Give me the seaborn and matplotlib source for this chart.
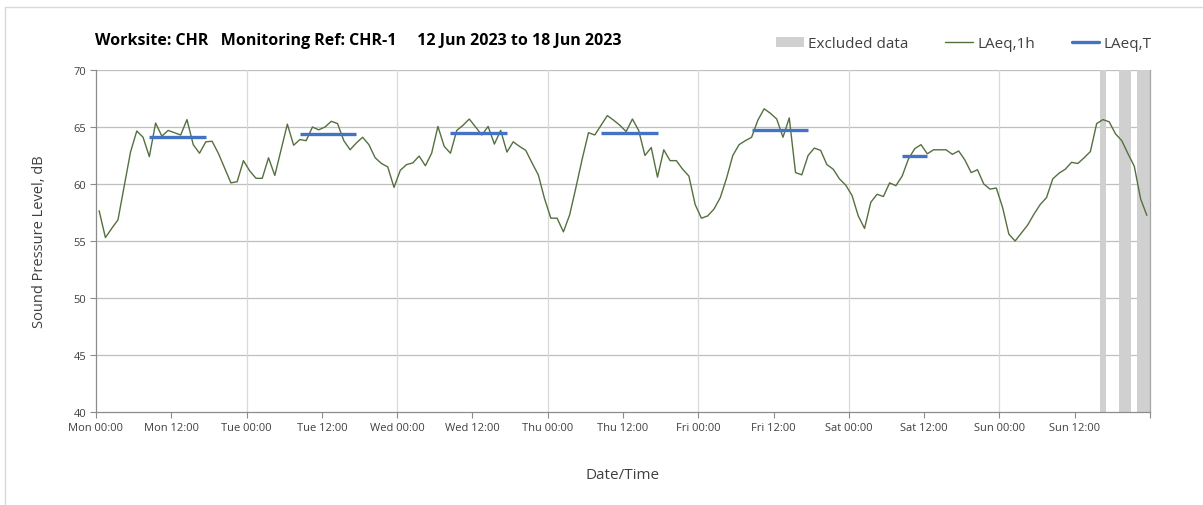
import numpy as np
import pandas as pd
import matplotlib
matplotlib.use('Agg')
import matplotlib.pyplot as plt
from matplotlib.patches import Patch
from matplotlib.lines import Line2D
import seaborn as sns

# hourly LAeq,1h values, Mon 00:00 .. Sun 23:00 (one per hour)
laeq_1h = [
    57.65, 55.3, 56.1, 56.85, 59.85, 62.8, 64.65, 64.1, 62.4, 65.35, 64.2, 64.7,
    64.5, 64.3, 65.65, 63.45, 62.7, 63.7, 63.75, 62.7, 61.4, 60.1, 60.2, 62.05,
    61.15, 60.5, 60.5, 62.3, 60.75, 63.0, 65.25, 63.4, 63.9, 63.8, 65.0, 64.75,
    65.0, 65.5, 65.3, 63.8, 63.0, 63.6, 64.1, 63.45, 62.3, 61.8, 61.5, 59.7,
    61.2, 61.7, 61.85, 62.45, 61.6, 62.7, 65.05, 63.3, 62.7, 64.7, 65.15, 65.7,
    65.0, 64.3, 65.05, 63.5, 64.7, 62.8, 63.7, 63.3, 62.95, 61.85, 60.8, 58.7,
    57.0, 57.0, 55.8, 57.3, 59.7, 62.2, 64.5, 64.3, 65.15, 66.0, 65.6, 65.15,
    64.6, 65.7, 64.7, 62.5, 63.2, 60.6, 63.0, 62.05, 62.05, 61.3, 60.7, 58.2,
    57.0, 57.2, 57.8, 58.8, 60.5, 62.5, 63.45, 63.8, 64.1, 65.6, 66.6, 66.2,
    65.7, 64.1, 65.8, 61.0, 60.8, 62.5, 63.15, 62.95, 61.7, 61.3, 60.45, 59.9,
    59.0, 57.2, 56.1, 58.4, 59.1, 58.9, 60.1, 59.85, 60.7, 62.2, 63.1, 63.45,
    62.65, 63.0, 63.0, 63.0, 62.6, 62.9, 62.1, 61.0, 61.25, 60.0, 59.55, 59.65,
    57.95, 55.6, 55.0, 55.7, 56.4, 57.35, 58.2, 58.8, 60.45, 60.95, 61.3, 61.9,
    61.8, 62.3, 62.85, 65.3, 65.65, 65.45, 64.4, 63.8, 62.65, 61.55, 58.7, 57.25,
]

# LAeq,T daytime periods (first hour, last hour, level)
laeq_t_start = [8, 32, 56, 80, 104, 128]
laeq_t_end = [17, 41, 65, 89, 113, 132]
laeq_t_value = [64.1, 64.4, 64.5, 64.5, 64.7, 62.45]

# excluded periods (hours from Mon 00:00)
excl_start = [160, 163, 166]
excl_end = [161, 165, 168]

tick_labels = ['Mon 00:00', 'Mon 12:00', 'Tue 00:00', 'Tue 12:00', 'Wed 00:00',
               'Wed 12:00', 'Thu 00:00', 'Thu 12:00', 'Fri 00:00', 'Fri 12:00',
               'Sat 00:00', 'Sat 12:00', 'Sun 00:00', 'Sun 12:00']

GREEN = '#55703f'
BLUE = '#4472c4'
GREY_BAR = '#d0d0d0'
TXT = '#404040'

sns.set_style('white')
plt.rcParams['font.family'] = ['Open Sans', 'DejaVu Sans']

df = pd.DataFrame({'hour': np.arange(len(laeq_1h)) + 0.5, 'level': laeq_1h})

fig = plt.figure(figsize=(12.03, 5.06), dpi=100)
ax = fig.add_axes([96 / 1203, 1 - 413 / 506, (1150 - 96) / 1203, (413 - 71) / 506])

# excluded data
for s, e in zip(excl_start, excl_end):
    ax.axvspan(s, e, color=GREY_BAR, lw=0, zorder=1)

sns.lineplot(data=df, x='hour', y='level', ax=ax, color=GREEN, lw=1.0, zorder=3)

ax.hlines(laeq_t_value,
          [s + 0.5 for s in laeq_t_start],
          [e + 0.5 for e in laeq_t_end],
          colors=BLUE, lw=2.4, zorder=4)

ax.set_xlim(0, 168)
ax.set_ylim(40, 70)
ax.set_xticks(np.arange(0, 169, 12))
ax.set_xticklabels(tick_labels + [''])
ax.set_yticks(np.arange(40, 71, 5))

# grid: horizontal darker, daily vertical lighter
for y in np.arange(45, 71, 5):
    ax.axhline(y, color='#bfbfbf', lw=0.9, zorder=0)
for x in np.arange(24, 168, 24):
    ax.axvline(x, color='#d9d9d9', lw=0.9, zorder=0)

ax.spines['top'].set_visible(False)
ax.spines['left'].set_color('#8c8c8c')
ax.spines['bottom'].set_color('#8c8c8c')
ax.spines['right'].set_color('#a6a6a6')
for sp in ax.spines.values():
    sp.set_linewidth(0.9)

ax.tick_params(axis='both', which='both', length=4, width=0.8, color='#8c8c8c',
               labelsize=8, labelcolor=TXT, pad=3, direction='out')
ax.tick_params(axis='x', bottom=True)
ax.tick_params(axis='y', left=True)

ax.set_xlabel('Date/Time', fontsize=11, color=TXT, labelpad=25)
ax.set_ylabel('Sound Pressure Level, dB', fontsize=10.5, color=TXT, labelpad=19)

fig.text(95 / 1203, 1 - 41 / 506,
         'Worksite: CHR   Monitoring Ref: CHR-1     12 Jun 2023 to 18 Jun 2023',
         fontsize=11.5, fontweight='bold', color='black', va='center', ha='left')

handles = [Patch(facecolor=GREY_BAR, edgecolor='none'),
           Line2D([], [], color=GREEN, lw=1.0),
           Line2D([], [], color=BLUE, lw=2.4)]
fig.legend(handles, ['Excluded data', 'LAeq,1h', 'LAeq,T'], ncol=3, frameon=False,
           loc='center', bbox_to_anchor=(964 / 1203, 1 - 45 / 506),
           fontsize=11, labelcolor=TXT, handlelength=1.8, handleheight=0.6,
           handletextpad=0.3, columnspacing=2.4)

# chart area border (left and top only visible in frame)
fig.add_artist(Line2D([5 / 1203, 5 / 1203], [0, 1 - 8 / 506], transform=fig.transFigure,
                      color='#d9d9d9', lw=1))
fig.add_artist(Line2D([5 / 1203, 1], [1 - 8 / 506, 1 - 8 / 506], transform=fig.transFigure,
                      color='#d9d9d9', lw=1))

fig.savefig('out.png', dpi=100)
